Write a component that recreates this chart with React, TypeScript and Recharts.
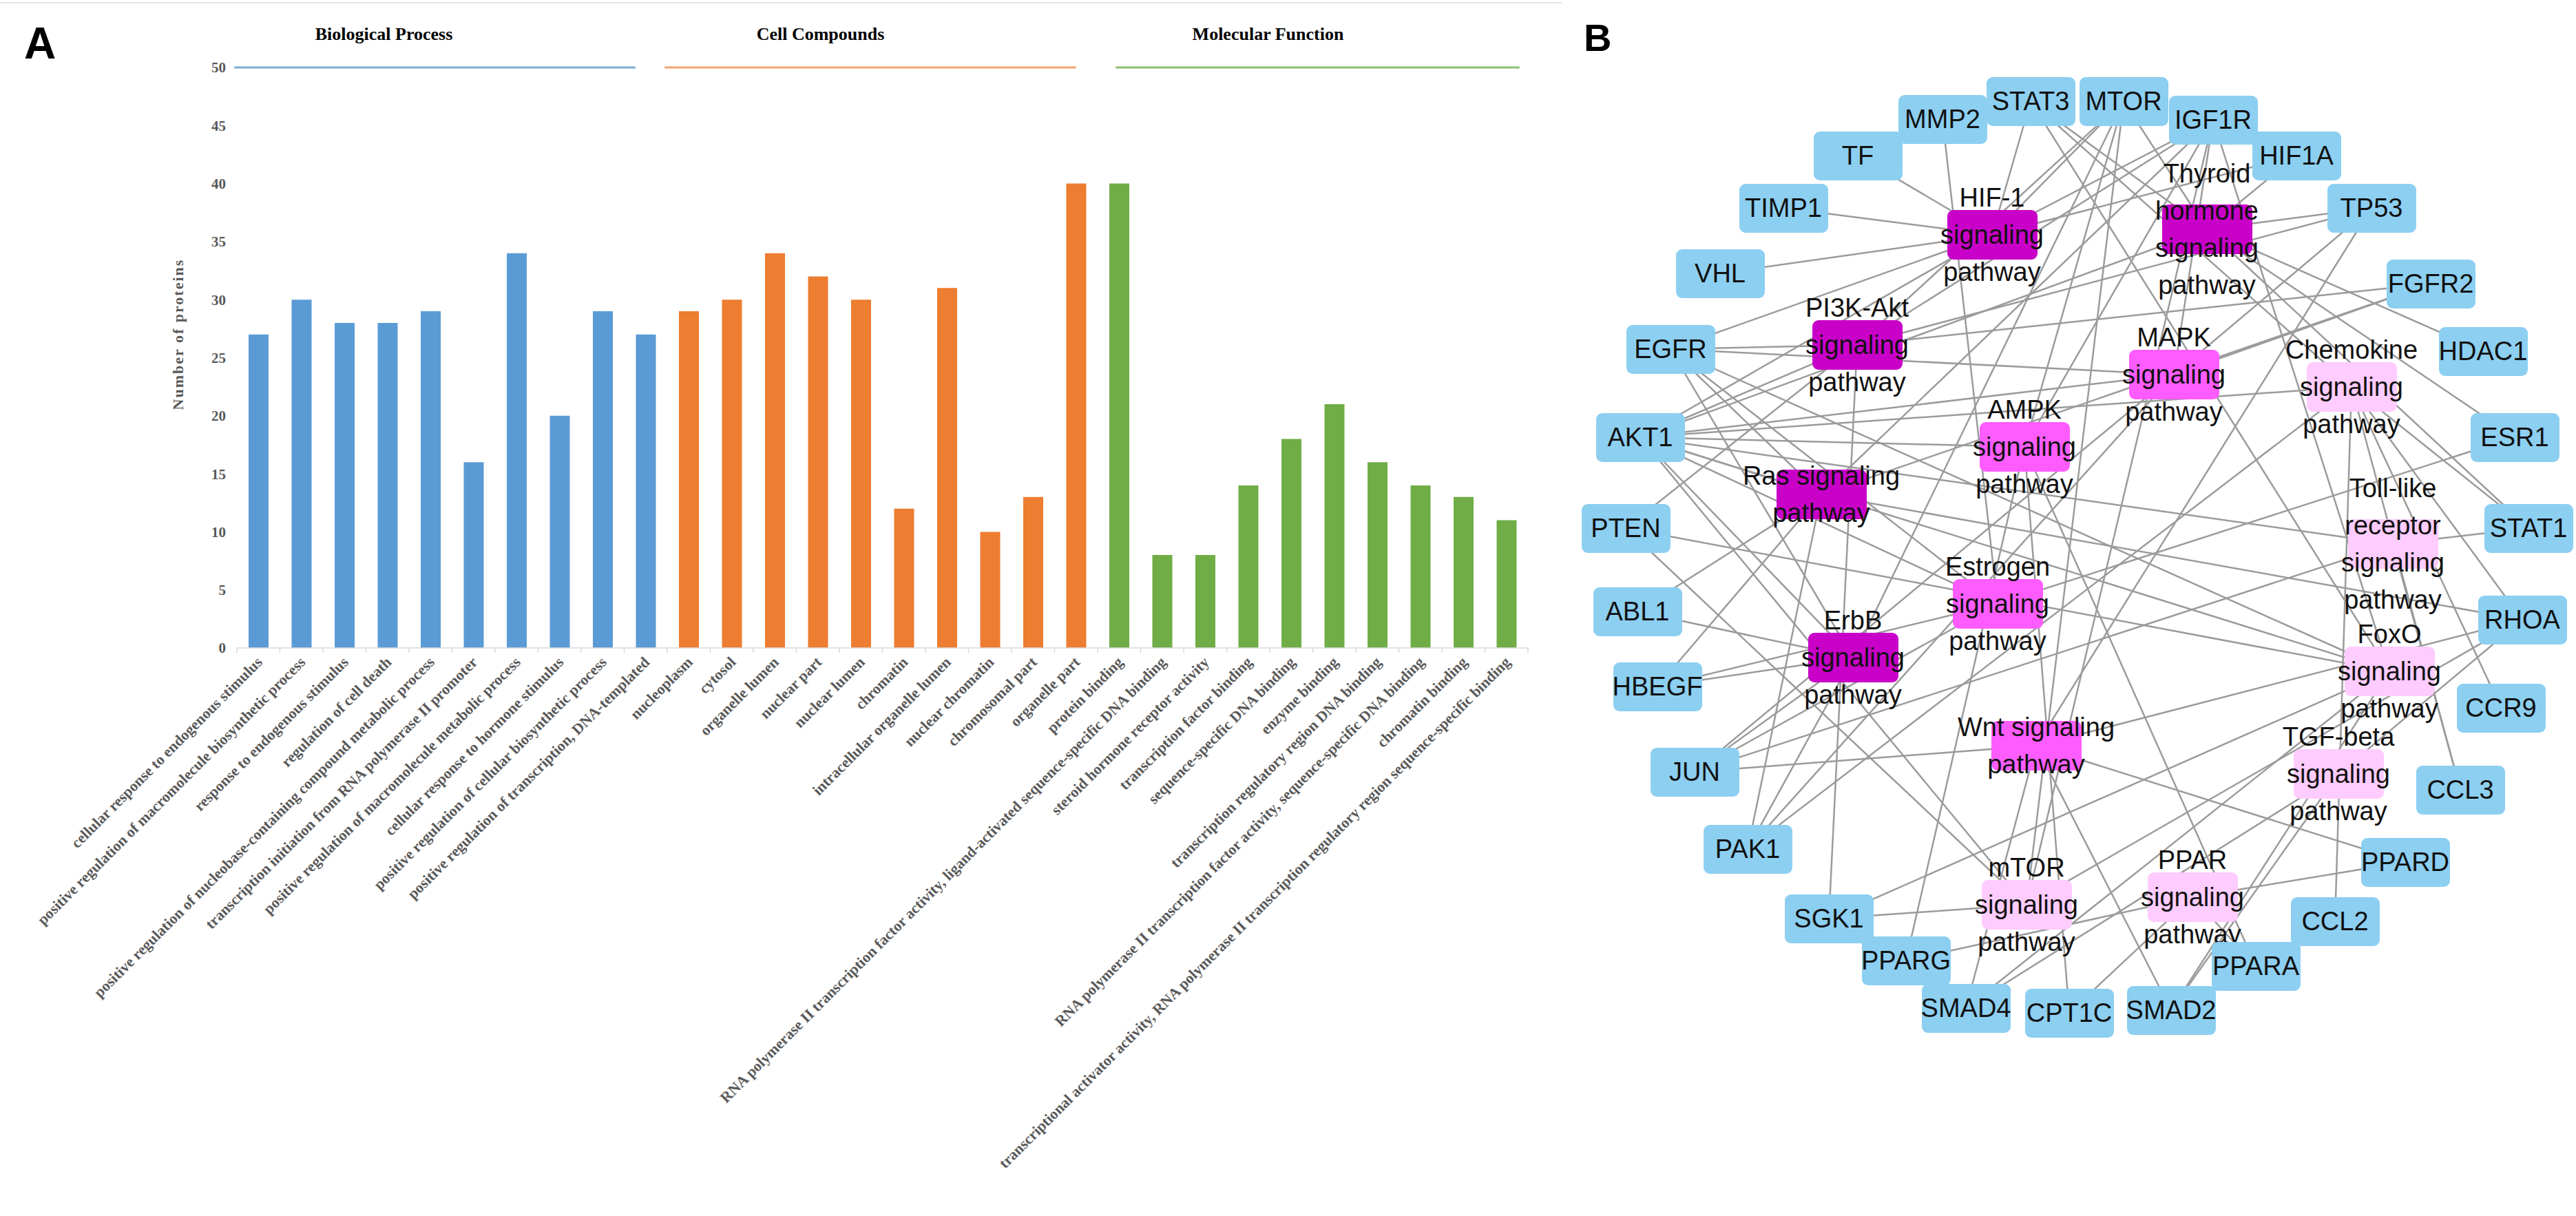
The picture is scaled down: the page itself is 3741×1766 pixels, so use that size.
import React from 'react';
import { BarChart, Bar, XAxis, YAxis, Cell, ReferenceLine, ScatterChart, Scatter } from 'recharts';

// ---- Panel A data ----
const bpLabels = [
  'cellular response to endogenous stimulus',
  'positive regulation of macromolecule biosynthetic process',
  'response to endogenous stimulus',
  'regulation of cell death',
  'positive regulation of nucleobase-containing compound metabolic process',
  'transcription initiation from RNA polymerase II promoter',
  'positive regulation of macromolecule metabolic process',
  'cellular response to hormone stimulus',
  'positive regulation of cellular biosynthetic process',
  'positive regulation of transcription, DNA-templated',
];
const bpValues = [27, 30, 28, 28, 29, 16, 34, 20, 29, 27];

const ccLabels = [
  'nucleoplasm',
  'cytosol',
  'organelle lumen',
  'nuclear part',
  'nuclear lumen',
  'chromatin',
  'intracellular organelle lumen',
  'nuclear chromatin',
  'chromosomal part',
  'organelle part',
];
const ccValues = [29, 30, 34, 32, 30, 12, 31, 10, 13, 40];

const mfLabels = [
  'protein binding',
  'RNA polymerase II transcription factor activity, ligand-activated sequence-specific DNA binding',
  'steroid hormone receptor activity',
  'transcription factor binding',
  'sequence-specific DNA binding',
  'enzyme binding',
  'transcription regulatory region DNA binding',
  'RNA polymerase II transcription factor activity, sequence-specific DNA binding',
  'chromatin binding',
  'transcriptional activator activity, RNA polymerase II transcription regulatory region sequence-specific binding',
];
const mfValues = [40, 8, 8, 14, 18, 21, 16, 14, 13, 11];

const groupTitles = ['Biological Process', 'Cell Compounds', 'Molecular Function'];
const groupLabels = [bpLabels, ccLabels, mfLabels];
const groupValues = [bpValues, ccValues, mfValues];
const yTicks = [0, 5, 10, 15, 20, 25, 30, 35, 40, 45, 50];

// small pixel nudges of the header rules / titles relative to their first & last bar
const ruleStartNudge = [-35, -35, -5];
const ruleEndNudge = [-15, 0, 19];
const titleNudge = [-99, -90, -65];

// ---- Panel B data (network layout units) ----
const geneNames = [
  'MMP2', 'STAT3', 'MTOR', 'IGF1R', 'TF', 'HIF1A', 'TIMP1', 'TP53', 'VHL', 'FGFR2',
  'EGFR', 'HDAC1', 'AKT1', 'ESR1', 'PTEN', 'STAT1', 'ABL1', 'RHOA', 'HBEGF', 'CCR9',
  'JUN', 'CCL3', 'PAK1', 'PPARD', 'SGK1', 'CCL2', 'PPARG', 'PPARA', 'SMAD4', 'CPT1C', 'SMAD2',
];
const geneX = [
  581, 709, 844, 974, 458, 1095, 350, 1204, 258, 1290,
  186, 1366, 142, 1412, 121, 1432, 138, 1423, 167, 1392,
  221, 1333, 298, 1253, 416, 1151, 528, 1036, 615, 765, 913,
];
const geneY = [
  173, 147, 147, 174, 226, 226, 302, 302, 397, 412,
  507, 510, 635, 635, 767, 767, 888, 900, 997, 1028,
  1121, 1147, 1233, 1252, 1334, 1338, 1395, 1403, 1464, 1471, 1467,
];

const pathwayNames = [
  'HIF-1', 'Thyroid hormone', 'PI3K-Akt', 'MAPK', 'Chemokine', 'AMPK', 'Ras', 'Toll-like receptor',
  'Estrogen', 'ErbB', 'FoxO', 'Wnt', 'TGF-beta', 'mTOR', 'PPAR',
];
const pathwayLines = [
  ['HIF-1', 'signaling', 'pathway'],
  ['Thyroid', 'hormone', 'signaling', 'pathway'],
  ['PI3K-Akt', 'signaling', 'pathway'],
  ['MAPK', 'signaling', 'pathway'],
  ['Chemokine', 'signaling', 'pathway'],
  ['AMPK', 'signaling', 'pathway'],
  ['Ras signaling', 'pathway'],
  ['Toll-like', 'receptor', 'signaling', 'pathway'],
  ['Estrogen', 'signaling', 'pathway'],
  ['ErbB', 'signaling', 'pathway'],
  ['FoxO', 'signaling', 'pathway'],
  ['Wnt signaling', 'pathway'],
  ['TGF-beta', 'signaling', 'pathway'],
  ['mTOR', 'signaling', 'pathway'],
  ['PPAR', 'signaling', 'pathway'],
];
const pathwayX = [653, 965, 457, 917, 1175, 700, 405, 1235, 661, 451, 1230, 717, 1156, 703, 944];
const pathwayY = [341, 333, 501, 544, 562, 649, 718, 790, 877, 955, 975, 1083, 1124, 1314, 1303];
const pathwayTier = [0, 0, 0, 1, 2, 1, 0, 2, 1, 0, 2, 1, 2, 2, 2];

const pathwayGenes = [
  ['TF', 'TIMP1', 'VHL', 'EGFR', 'MTOR', 'STAT3', 'IGF1R', 'HIF1A', 'AKT1'],
  ['STAT3', 'MTOR', 'HIF1A', 'TP53', 'HDAC1', 'AKT1', 'ESR1', 'STAT1'],
  ['MTOR', 'IGF1R', 'TP53', 'FGFR2', 'EGFR', 'AKT1', 'PTEN', 'SGK1'],
  ['IGF1R', 'FGFR2', 'EGFR', 'AKT1', 'TP53', 'JUN', 'PAK1'],
  ['STAT3', 'AKT1', 'STAT1', 'RHOA', 'CCR9', 'CCL3', 'CCL2', 'PAK1'],
  ['MTOR', 'IGF1R', 'AKT1', 'PPARG', 'PPARA', 'CPT1C'],
  ['IGF1R', 'FGFR2', 'EGFR', 'AKT1', 'ABL1', 'RHOA', 'HBEGF', 'PAK1'],
  ['AKT1', 'STAT1', 'JUN', 'CCL3'],
  ['MMP2', 'EGFR', 'AKT1', 'ESR1', 'HBEGF', 'JUN'],
  ['MTOR', 'EGFR', 'AKT1', 'ABL1', 'HBEGF', 'JUN', 'PAK1'],
  ['STAT3', 'IGF1R', 'EGFR', 'AKT1', 'PTEN', 'SGK1', 'SMAD4', 'SMAD2'],
  ['TP53', 'JUN', 'SMAD4', 'SMAD2', 'RHOA', 'PPARD'],
  ['SMAD4', 'SMAD2', 'RHOA'],
  ['MTOR', 'IGF1R', 'AKT1', 'PTEN', 'SGK1', 'RHOA'],
  ['PPARD', 'PPARG', 'PPARA', 'CPT1C'],
];

// ---- styles ----
const SERIF = "'Liberation Serif', 'Times New Roman', serif";
const SANS = "'Liberation Sans', Arial, sans-serif";
const BAR_COLORS = ['#5B9BD5', '#ED7D31', '#70AD47'];
const HEADER_COLORS = ['#7DAAD9', '#F2A46E', '#8CBF6E'];
const TIER_COLORS = ['#C800C8', '#FF5CFF', '#FFCCFF'];
const GENE_COLOR = '#8CCFF1';
const EDGE_COLOR = '#9b9b9b';
const AXIS_GRAY = '#D9D9D9';
const TEXT_GRAY = '#595959';

const barData = groupLabels.flatMap((labels, g) =>
  labels.map((name, i) => ({ name, value: groupValues[g][i], group: g }))
);
const lastIndex = barData.length - 1;

const geneData = geneNames.map((name, i) => ({ name, x: geneX[i], y: geneY[i] }));
const pathwayData = pathwayNames.map((name, i) => ({
  name, x: pathwayX[i], y: pathwayY[i], lines: pathwayLines[i], tier: pathwayTier[i],
}));
const geneByName: Record<string, { x: number; y: number }> = {};
geneData.forEach((g) => { geneByName[g.name] = g; });

const edgeData = pathwayData.map((p, i) =>
  pathwayGenes[i].flatMap((g) => [
    { x: p.x, y: p.y },
    { x: geneByName[g].x, y: geneByName[g].y },
  ])
);

const CategoryTick = (props: any) => {
  const { x, y, payload, index } = props;
  const half = payload && payload.offset ? payload.offset : 31.25;
  const tx = x + 7;
  const ty = y + 22;
  return (
    <g>
      <line x1={x - half} y1={y} x2={x - half} y2={y + 7} stroke={AXIS_GRAY} strokeWidth={1.5} />
      {index === lastIndex && (
        <line x1={x + half} y1={y} x2={x + half} y2={y + 7} stroke={AXIS_GRAY} strokeWidth={1.5} />
      )}
      <text
        x={tx}
        y={ty}
        transform={`rotate(-45 ${tx} ${ty})`}
        textAnchor="end"
        fontFamily={SERIF}
        fontSize={22}
        fontWeight="bold"
        fill={TEXT_GRAY}
      >
        {payload.value}
      </text>
    </g>
  );
};

const YTitle = (props: any) => {
  const vb = props.viewBox || { x: 0, y: 98, width: 344, height: 843 };
  const cx = vb.x + vb.width - 86;
  const cy = vb.y + vb.height / 2 - 34;
  return (
    <text
      x={cx}
      y={cy}
      transform={`rotate(-90 ${cx} ${cy})`}
      textAnchor="middle"
      dominantBaseline="central"
      fontFamily={SERIF}
      fontSize={22}
      fontWeight="bold"
      letterSpacing={2}
      fill={TEXT_GRAY}
    >
      Number of proteins
    </text>
  );
};

const groupTitle = (title: string, nudge: number) => (props: any) => {
  const vb = props.viewBox || {};
  const x1 = vb.x1 !== undefined ? vb.x1 : vb.x || 0;
  const x2 = vb.x2 !== undefined ? vb.x2 : (vb.x || 0) + (vb.width || 0);
  const y = vb.y1 !== undefined ? vb.y1 : vb.y || 0;
  return (
    <text
      x={(x1 + x2) / 2 + nudge}
      y={y - 40}
      textAnchor="middle"
      fontFamily={SERIF}
      fontSize={26}
      fontWeight="bold"
      fill="#000"
    >
      {title}
    </text>
  );
};

const groupRule = (g: number) => (props: any) => (
  <line
    x1={props.x1 + ruleStartNudge[g]}
    y1={props.y1}
    x2={props.x2 + ruleEndNudge[g]}
    y2={props.y2}
    stroke={HEADER_COLORS[g]}
    strokeWidth={3}
  />
);

const NoPoint = () => <g />;

const GeneNode = (props: any) => {
  const { cx, cy, payload } = props;
  return (
    <g>
      <rect x={cx - 64} y={cy - 35} width={129} height={71} rx={9} fill={GENE_COLOR} />
      <text x={cx} y={cy + 13} textAnchor="middle" fontFamily={SANS} fontSize={38} fill="#111">
        {payload.name}
      </text>
    </g>
  );
};

const PathwayNode = (props: any) => {
  const { cx, cy, payload } = props;
  const lines: string[] = payload.lines;
  const n = lines.length;
  return (
    <g>
      <rect x={cx - 65} y={cy - 36} width={131} height={72} rx={9} fill={TIER_COLORS[payload.tier]} />
      {lines.map((t, i) => (
        <text
          key={i}
          x={cx}
          y={cy + (i - (n - 1) / 2) * 54 + 13}
          textAnchor="middle"
          fontFamily={SANS}
          fontSize={38}
          fill="#111"
        >
          {t}
        </text>
      ))}
    </g>
  );
};

export default function App() {
  return (
    <div style={{ position: 'absolute', left: 0, top: 0, width: 3741, height: 1766, background: '#fff', overflow: 'hidden' }}>
      <svg width={3741} height={1766} style={{ position: 'absolute', left: 0, top: 0 }}>
        <line x1={0} y1={4} x2={2268} y2={4} stroke="#e4e4e4" strokeWidth={2} />
        <text x={35} y={85} fontFamily={SANS} fontWeight="bold" fontSize={64} fill="#000">A</text>
        <text x={2300} y={74} fontFamily={SANS} fontWeight="bold" fontSize={56} fill="#000">B</text>
      </svg>

      <div style={{ position: 'absolute', left: 0, top: 0 }}>
        <BarChart width={2260} height={1766} data={barData} margin={{ top: 98, right: 41, bottom: 0, left: 0 }}>
          <XAxis
            dataKey="name"
            interval={0}
            height={825}
            tickSize={0}
            tickMargin={0}
            tickLine={false}
            axisLine={{ stroke: AXIS_GRAY, strokeWidth: 1.5 }}
            tick={<CategoryTick />}
          />
          <YAxis
            width={344}
            domain={[0, 50]}
            ticks={yTicks}
            axisLine={false}
            tickLine={false}
            tickSize={0}
            tickMargin={16}
            tick={{ fill: TEXT_GRAY, fontSize: 21, fontFamily: SERIF, fontWeight: 'bold' }}
            label={<YTitle />}
          />
          <Bar dataKey="value" barSize={29} isAnimationActive={false}>
            {barData.map((d, i) => (
              <Cell key={i} fill={BAR_COLORS[d.group]} />
            ))}
          </Bar>
          {groupLabels.map((labels, g) => (
            <ReferenceLine
              key={g}
              segment={[
                { x: labels[0], y: 50 },
                { x: labels[labels.length - 1], y: 50 },
              ]}
              stroke={HEADER_COLORS[g]}
              strokeWidth={3}
              ifOverflow="visible"
              shape={groupRule(g)}
              label={groupTitle(groupTitles[g], titleNudge[g])}
            />
          ))}
        </BarChart>
      </div>

      <div style={{ position: 'absolute', left: 2240, top: 0 }}>
        <ScatterChart width={1501} height={1766} margin={{ top: 0, right: 0, bottom: 0, left: 0 }}>
          <XAxis type="number" dataKey="x" domain={[0, 1501]} allowDataOverflow hide />
          <YAxis type="number" dataKey="y" domain={[0, 1766]} reversed allowDataOverflow hide />
          {edgeData.map((pts, i) => (
            <Scatter
              key={`e${i}`}
              data={pts}
              line={{ stroke: EDGE_COLOR, strokeWidth: 2.5 }}
              lineType="joint"
              shape={NoPoint}
              isAnimationActive={false}
            />
          ))}
          <Scatter data={pathwayData} shape={PathwayNode} isAnimationActive={false} />
          <Scatter data={geneData} shape={GeneNode} isAnimationActive={false} />
        </ScatterChart>
      </div>
    </div>
  );
}
